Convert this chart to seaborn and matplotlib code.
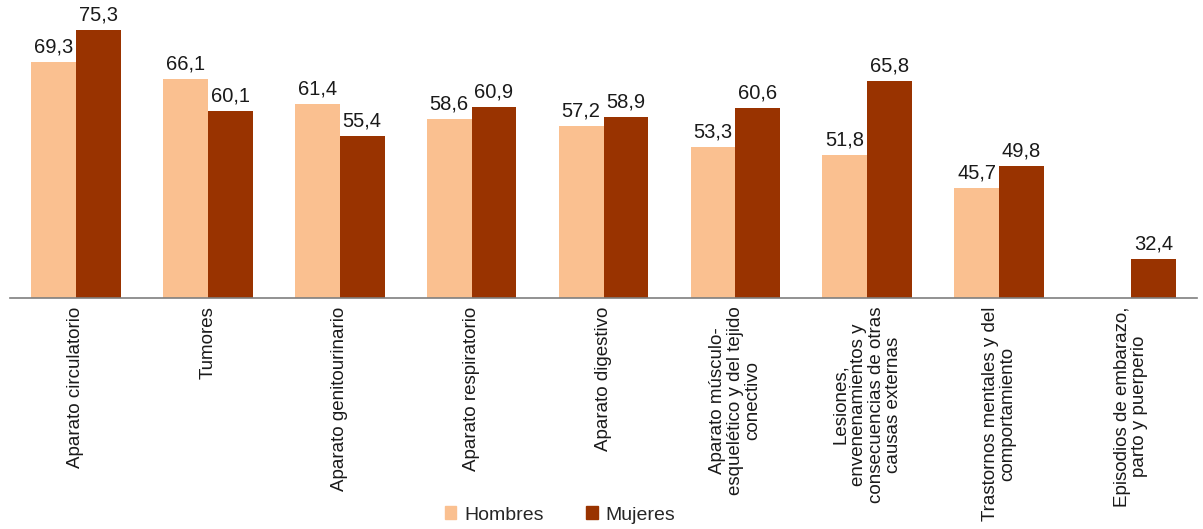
import pandas as pd
import numpy as np
import matplotlib.pyplot as plt
import seaborn as sns

categorias = [
    "Aparato circulatorio",
    "Tumores",
    "Aparato genitourinario",
    "Aparato respiratorio",
    "Aparato digestivo",
    "Aparato músculo-\nesquelético y del tejido\nconectivo",
    "Lesiones,\nenvenenamientos y\nconsecuencias de otras\ncausas externas",
    "Trastornos mentales y del\ncomportamiento",
    "Episodios de embarazo,\nparto y puerperio",
]
hombres = [69.3, 66.1, 61.4, 58.6, 57.2, 53.3, 51.8, 45.7, np.nan]
mujeres = [75.3, 60.1, 55.4, 60.9, 58.9, 60.6, 65.8, 49.8, 32.4]

df = pd.DataFrame({
    "categoria": categorias * 2,
    "valor": hombres + mujeres,
    "sexo": ["Hombres"] * len(categorias) + ["Mujeres"] * len(categorias),
})

sns.set_style("white")
plt.rcParams["font.family"] = ["Liberation Sans", "DejaVu Sans"]

fig = plt.figure(figsize=(12.03, 5.29), dpi=100)
ax = fig.add_axes([10 / 1203, 1 - 298 / 529, 1187 / 1203, 293 / 529])

sns.barplot(data=df, x="categoria", y="valor", hue="sexo",
            palette={"Hombres": "#FAC090", "Mujeres": "#993300"},
            width=0.68, gap=0, saturation=1, linewidth=0, ax=ax, legend=False)

for cont in ax.containers:
    labels = ["" if np.isnan(v) else f"{v:.1f}".replace(".", ",") for v in cont.datavalues]
    ax.bar_label(cont, labels=labels, padding=4, fontsize=14.5, color="#1a1a1a")

ax.set_ylim(25, 80)
ax.set_xlim(-0.5, len(categorias) - 0.5)
ax.set_xlabel("")
ax.set_ylabel("")
ax.set_yticks([])
ax.tick_params(axis="x", length=0, pad=6)
plt.setp(ax.get_xticklabels(), rotation=90, ha="center", va="top",
         multialignment="center", fontsize=13.5, color="#1a1a1a",
         linespacing=1.05)
for s in ["top", "right", "left"]:
    ax.spines[s].set_visible(False)
ax.spines["bottom"].set_color("#7f7f7f")
ax.spines["bottom"].set_linewidth(1.2)

handles = [plt.Rectangle((0, 0), 1, 1, color="#FAC090"),
           plt.Rectangle((0, 0), 1, 1, color="#993300")]
fig.legend(handles, ["Hombres", "Mujeres"], loc="center", ncol=2,
           bbox_to_anchor=(560 / 1203, 1 - 515 / 529), frameon=False,
           fontsize=14, handlelength=0.6, handleheight=0.6,
           handletextpad=0.4, columnspacing=2.2)

fig.savefig("out.png", dpi=100)
